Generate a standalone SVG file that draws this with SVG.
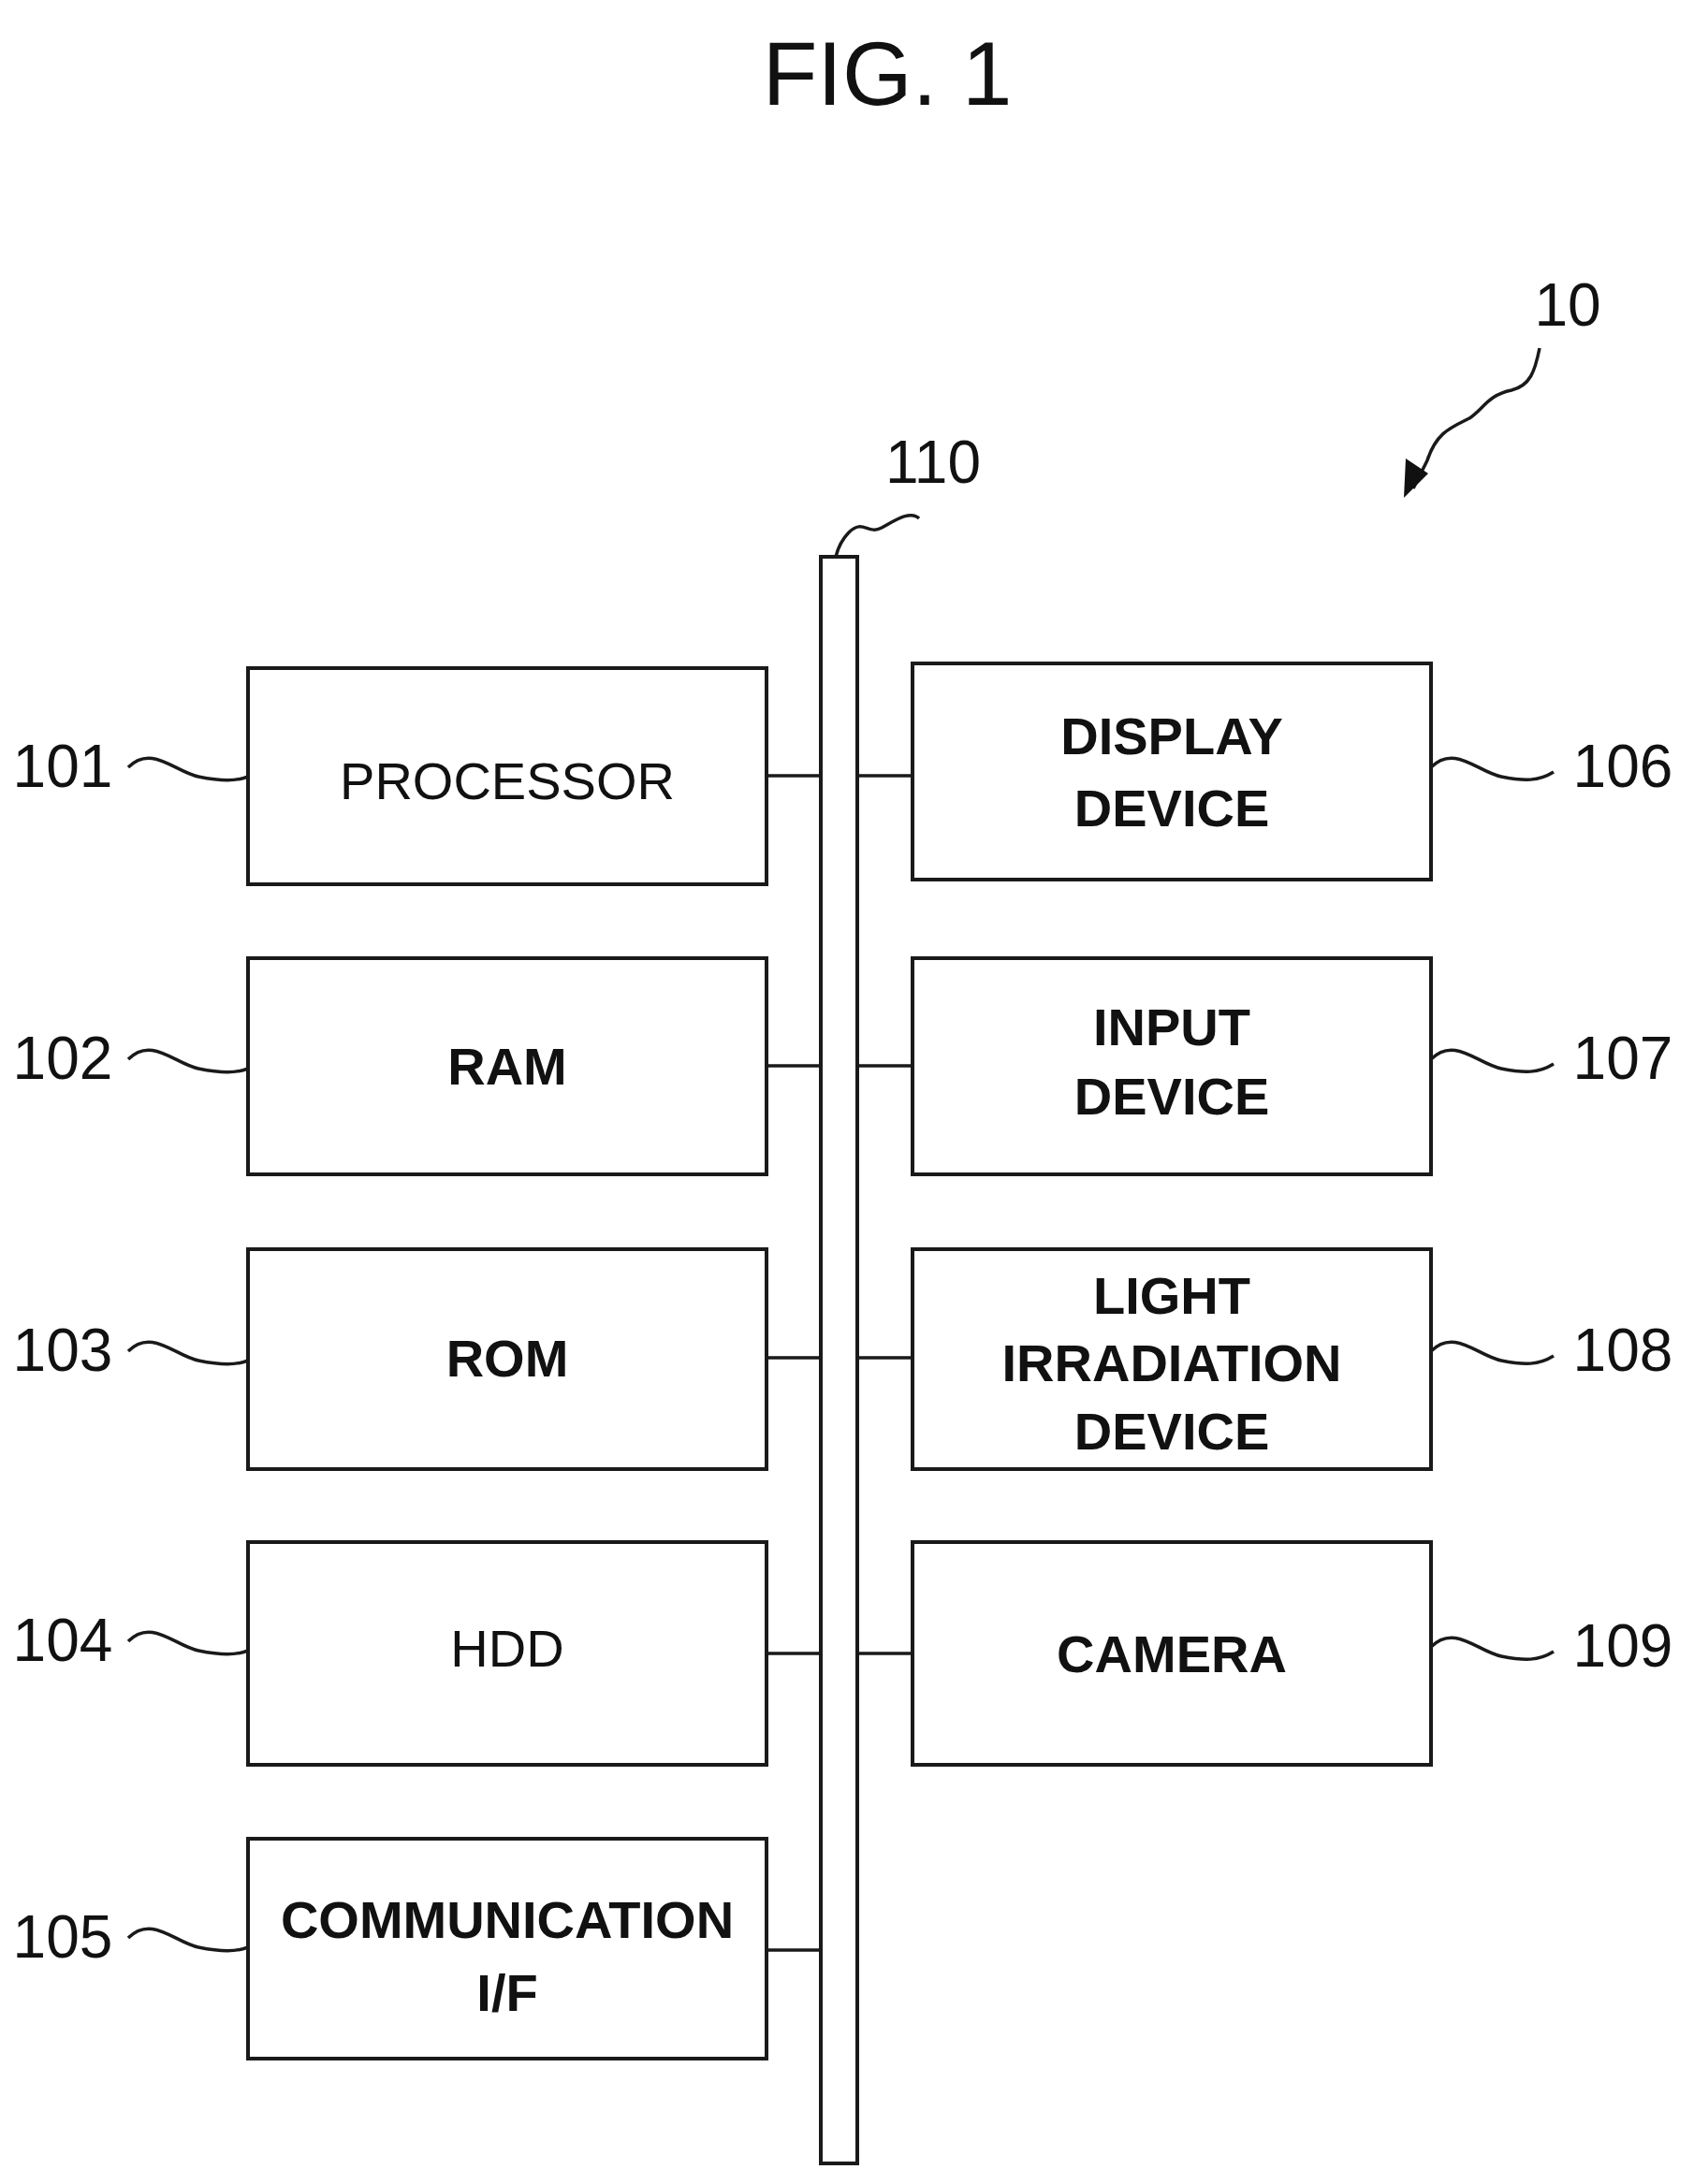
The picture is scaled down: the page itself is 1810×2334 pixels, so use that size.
<svg xmlns="http://www.w3.org/2000/svg" width="1810" height="2334" viewBox="0 0 1810 2334">
<style>
.box{fill:#fff;stroke:#1a1a1a;stroke-width:4}
.ln{fill:none;stroke:#1a1a1a;stroke-width:3.5}
.t{font-family:"Liberation Sans",Arial,sans-serif;font-size:56px;text-anchor:middle;fill:#111;font-weight:bold}
.n{font-family:"Liberation Sans",Arial,sans-serif;font-size:64px;text-anchor:middle;fill:#111}
</style>
<rect width="1810" height="2334" fill="#fff"/>
<text x="948" y="112" class="n" style="font-size:96px">FIG. 1</text>
<g id="ref10"><text x="1675" y="348" class="n">10</text>
<path class="ln" d="M1645,372 c-5,25 -10,40 -30,45 c-25,5 -30,20 -45,30 c-20,10 -35,15 -45,45 l-15,30"/>
<path d="M1500,532 l2,-42 l24,16 z" fill="#111"/></g>
<g id="bus"><text x="997" y="516" class="n">110</text>
<path class="ln" d="M982,554 c-10,-10 -30,5 -40,10 c-15,8 -20,-10 -35,5 c-8,8 -12,18 -14,26"/>
<rect class="box" x="877" y="595" width="39" height="1717"/></g>
<g id="connectors">
<path class="ln" d="M819,829H877M819,1139H877M819,1451H877M819,1767H877M819,2084H877M916,829H975M916,1139H975M916,1451H975M916,1767H975"/>
</g>
<g id="n101"><rect class="box" x="265" y="714" width="554" height="231"/><text x="542" y="854" class="t" style="font-weight:normal">PROCESSOR</text><text x="67" y="841" class="n">101</text><path class="ln" d="M137,820 c25,-25 50,5 75,10 s40,5 53,0"/></g>
<g id="n102"><rect class="box" x="265" y="1024" width="554" height="231"/><text x="542" y="1159" class="t">RAM</text><text x="67" y="1153" class="n">102</text><path class="ln" d="M137,1132 c25,-25 50,5 75,10 s40,5 53,0"/></g>
<g id="n103"><rect class="box" x="265" y="1335" width="554" height="235"/><text x="542" y="1471" class="t">ROM</text><text x="67" y="1465" class="n">103</text><path class="ln" d="M137,1444 c25,-25 50,5 75,10 s40,5 53,0"/></g>
<g id="n104"><rect class="box" x="265" y="1648" width="554" height="238"/><text x="542" y="1781" class="t" style="font-weight:normal">HDD</text><text x="67" y="1775" class="n">104</text><path class="ln" d="M137,1754 c25,-25 50,5 75,10 s40,5 53,0"/></g>
<g id="n105"><rect class="box" x="265" y="1965" width="554" height="235"/><text x="542" y="2071" class="t">COMMUNICATION</text><text x="542" y="2149" class="t">I/F</text><text x="67" y="2092" class="n">105</text><path class="ln" d="M137,2071 c25,-25 50,5 75,10 s40,5 53,0"/></g>
<g id="n106"><rect class="box" x="975" y="709" width="554" height="231"/><text x="1252" y="806" class="t">DISPLAY</text><text x="1252" y="883" class="t">DEVICE</text><text x="1734" y="841" class="n">106</text><path class="ln" d="M1529,820 c25,-25 50,5 75,10 s40,5 56,-5"/></g>
<g id="n107"><rect class="box" x="975" y="1024" width="554" height="231"/><text x="1252" y="1117" class="t">INPUT</text><text x="1252" y="1191" class="t">DEVICE</text><text x="1734" y="1153" class="n">107</text><path class="ln" d="M1529,1132 c25,-25 50,5 75,10 s40,5 56,-5"/></g>
<g id="n108"><rect class="box" x="975" y="1335" width="554" height="235"/><text x="1252" y="1404" class="t">LIGHT</text><text x="1252" y="1476" class="t">IRRADIATION</text><text x="1252" y="1549" class="t">DEVICE</text><text x="1734" y="1465" class="n">108</text><path class="ln" d="M1529,1444 c25,-25 50,5 75,10 s40,5 56,-5"/></g>
<g id="n109"><rect class="box" x="975" y="1648" width="554" height="238"/><text x="1252" y="1787" class="t">CAMERA</text><text x="1734" y="1781" class="n">109</text><path class="ln" d="M1529,1760 c25,-25 50,5 75,10 s40,5 56,-5"/></g>
</svg>
